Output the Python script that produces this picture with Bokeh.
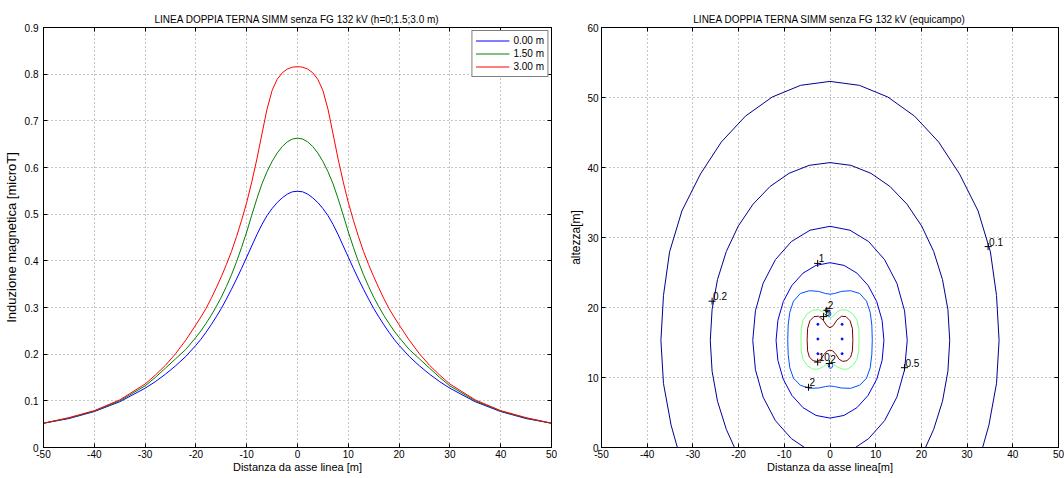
from bokeh.plotting import figure
from bokeh.layouts import row
from bokeh.models import FixedTicker, LinearAxis, Legend, LegendItem, Range1d
from bokeh.embed import file_html
from bokeh.resources import INLINE
from bokeh.core.properties import value

FONT = "Liberation Sans"

# ---------------- left chart: magnetic induction vs distance ----------------
distance_m = [-50, -45, -40, -35, -30, -28, -26, -24, -22, -20, -19, -18, -17, -16, -15, -14, -13, -12,
              -11, -10, -9, -8, -7, -6, -5, -4, -3, -2, -1, 0, 1, 2, 3, 4, 5, 6, 7, 8, 9, 10, 11, 12,
              13, 14, 15, 16, 17, 18, 19, 20, 22, 24, 26, 28, 30, 35, 40, 45, 50]
b_h000 = [0.052, 0.062, 0.077, 0.098, 0.127, 0.141, 0.157, 0.175, 0.195, 0.219, 0.232, 0.247, 0.263,
          0.280, 0.298, 0.318, 0.339, 0.361, 0.384, 0.408, 0.432, 0.456, 0.478, 0.497, 0.512, 0.525,
          0.535, 0.543, 0.548, 0.549, 0.548, 0.543, 0.535, 0.525, 0.512, 0.497, 0.478, 0.456, 0.432,
          0.408, 0.384, 0.361, 0.339, 0.318, 0.298, 0.280, 0.263, 0.247, 0.232, 0.219, 0.195, 0.175,
          0.157, 0.141, 0.127, 0.098, 0.077, 0.062, 0.052]
b_h150 = [0.052, 0.063, 0.078, 0.100, 0.132, 0.150, 0.170, 0.190, 0.210, 0.236, 0.250, 0.266, 0.283,
          0.302, 0.322, 0.345, 0.370, 0.398, 0.429, 0.462, 0.498, 0.533, 0.565, 0.591, 0.613, 0.631,
          0.645, 0.655, 0.661, 0.663, 0.661, 0.655, 0.645, 0.631, 0.613, 0.591, 0.565, 0.533, 0.498,
          0.462, 0.429, 0.398, 0.370, 0.345, 0.322, 0.302, 0.283, 0.266, 0.250, 0.236, 0.210, 0.190,
          0.170, 0.150, 0.132, 0.100, 0.078, 0.063, 0.052]
b_h300 = [0.052, 0.064, 0.079, 0.102, 0.136, 0.155, 0.176, 0.201, 0.230, 0.263, 0.280, 0.298, 0.319,
          0.342, 0.366, 0.392, 0.420, 0.452, 0.487, 0.525, 0.569, 0.618, 0.672, 0.725, 0.765, 0.789,
          0.803, 0.811, 0.815, 0.816, 0.815, 0.811, 0.803, 0.789, 0.765, 0.725, 0.672, 0.618, 0.569,
          0.525, 0.487, 0.452, 0.420, 0.392, 0.366, 0.342, 0.319, 0.298, 0.280, 0.263, 0.230, 0.201,
          0.176, 0.155, 0.136, 0.102, 0.079, 0.064, 0.052]
series_labels = ["0.00 m", "1.50 m", "3.00 m"]
series_colors = ["#0000ff", "#008000", "#ff0000"]

x_ticks = [-50, -40, -30, -20, -10, 0, 10, 20, 30, 40, 50]
x_tick_labels = ["-50", "-40", "-30", "-20", "-10", "0", "10", "20", "30", "40", "50"]
left_y_ticks = [0, 0.1, 0.2, 0.3, 0.4, 0.5, 0.6, 0.7, 0.8, 0.9]
left_y_tick_labels = ["0", "0.1", "0.2", "0.3", "0.4", "0.5", "0.6", "0.7", "0.8", "0.9"]
right_y_ticks = [0, 10, 20, 30, 40, 50, 60]
right_y_tick_labels = ["0", "10", "20", "30", "40", "50", "60"]

# ---------------- right chart: iso-field contours ----------------
c01_x = [-33.4, -34.77, -36.44, -37.0, -36.44, -35.1, -32.4, -28.34, -23.78, -18.5, -12.65, -6.42, 0,
         6.42, 12.65, 18.5, 23.78, 28.34, 32.4, 35.1, 36.44, 37.0, 36.44, 34.77, 33.4]
c01_y = [0, 3.19, 9.15, 15.3, 21.72, 27.95, 33.8, 39.08, 43.64, 47.34, 50.07, 51.74, 52.3,
         51.74, 50.07, 47.34, 43.64, 39.08, 33.8, 27.95, 21.72, 15.3, 9.15, 3.19, 0]
c02_x = [-20.9, -22.69, -24.62, -25.8, -26.2, -25.8, -24.62, -22.69, -20.07, -16.84, -13.1, -8.96, -4.55, 0,
         4.55, 8.96, 13.1, 16.84, 20.07, 22.69, 24.62, 25.8, 26.2, 25.8, 24.62, 22.69, 20.9]
c02_y = [0, 2.6, 6.61, 10.89, 15.3, 19.71, 23.99, 28.0, 31.63, 34.76, 37.3, 39.17, 40.31, 40.7,
         40.31, 39.17, 37.3, 34.76, 31.63, 28.0, 23.99, 19.71, 15.3, 10.89, 6.61, 2.6, 0]
c05_x = [-5.56, -8.45, -11.95, -14.64, -16.32, -16.9, -16.32, -14.64, -11.95, -8.45, -4.37, 0,
         4.37, 8.45, 11.95, 14.64, 16.32, 16.9, 16.32, 14.64, 11.95, 8.45, 5.56]
c05_y = [0, 1.27, 3.84, 7.2, 11.11, 15.3, 19.52, 23.45, 26.83, 29.42, 31.04, 31.6,
         31.04, 29.42, 26.83, 23.45, 19.52, 15.3, 11.11, 7.2, 3.84, 1.27, 0]
c1_x = [0, 3.05, 5.9, 8.34, 10.22, 11.4, 11.8, 11.4, 10.22, 8.34, 5.9, 3.05, 0,
        -3.05, -5.9, -8.34, -10.22, -11.4, -11.8, -11.4, -10.22, -8.34, -5.9, -3.05, 0]
c1_y = [26.4, 26.02, 24.91, 23.15, 20.85, 18.17, 15.3, 12.43, 9.75, 7.45, 5.69, 4.58, 4.2,
        4.58, 5.69, 7.45, 9.75, 12.43, 15.3, 18.17, 20.85, 23.15, 24.91, 26.02, 26.4]
c2_x = [0, 1.0, 2.5, 4.5, 6.5, 8.0, 8.8, 9.15, 9.25, 9.15, 8.8, 8.0, 6.5, 4.5, 2.5, 1.0, 0,
        -1.0, -2.5, -4.5, -6.5, -8.0, -8.8, -9.15, -9.25, -9.15, -8.8, -8.0, -6.5, -4.5, -2.5, -1.0, 0]
c2_y = [21.9, 22.0, 22.3, 22.4, 22.0, 20.9, 19.3, 17.5, 15.4, 13.3, 11.4, 9.9, 8.9, 8.45, 8.5, 8.7, 8.8,
        8.7, 8.5, 8.45, 8.9, 9.9, 11.4, 13.3, 15.4, 17.5, 19.3, 20.9, 22.0, 22.4, 22.3, 22.0, 21.9]
c2a_x = [0.2, 0.05, -0.3, -0.65, -0.8, -0.65, -0.3, 0.05, 0.2]
c2a_y = [19.1, 19.38, 19.5, 19.38, 19.1, 18.82, 18.7, 18.82, 19.1]
c2b_x = [0.6, 0.45, 0.1, -0.25, -0.4, -0.25, 0.1, 0.45, 0.6]
c2b_y = [11.7, 11.98, 12.1, 11.98, 11.7, 11.42, 11.3, 11.42, 11.7]
c5_x = [0, 0.8, 1.6, 2.6, 3.8, 5.0, 5.9, 6.3, 6.35, 6.3, 5.9, 5.0, 3.8, 2.6, 1.6, 0.8, 0,
        -0.8, -1.6, -2.6, -3.8, -5.0, -5.9, -6.3, -6.35, -6.3, -5.9, -5.0, -3.8, -2.6, -1.6, -0.8, 0]
c5_y = [18.5, 18.8, 19.4, 19.7, 19.6, 19.1, 18.2, 17.0, 15.4, 13.8, 12.6, 11.7, 11.2, 11.2, 11.5, 11.9, 12.1,
        11.9, 11.5, 11.2, 11.2, 11.7, 12.6, 13.8, 15.4, 17.0, 18.2, 19.1, 19.6, 19.7, 19.4, 18.8, 18.5]
c10_x = [0, 0.7, 1.5, 2.5, 3.5, 4.4, 4.9, 5.0, 4.9, 4.5, 3.7, 2.8, 2.0, 1.3, 0.6, 0,
         -0.6, -1.3, -2.0, -2.8, -3.7, -4.5, -4.9, -5.0, -4.9, -4.4, -3.5, -2.5, -1.5, -0.7, 0]
c10_y = [17.1, 17.4, 18.2, 18.75, 18.7, 18.1, 17.0, 15.4, 13.8, 12.9, 12.4, 12.3, 12.6, 13.3, 13.8, 13.9,
         13.8, 13.3, 12.6, 12.3, 12.4, 12.9, 13.8, 15.4, 17.0, 18.1, 18.7, 18.75, 18.2, 17.4, 17.1]

contour_lines = [
    (c01_x, c01_y, "#00008F"),
    (c02_x, c02_y, "#00008F"),
    (c05_x, c05_y, "#0000AF"),
    (c1_x, c1_y, "#0000DF"),
    (c2_x, c2_y, "#0050FF"),
    (c2a_x, c2a_y, "#0050FF"),
    (c2b_x, c2b_y, "#0050FF"),
    (c5_x, c5_y, "#80FF80"),
    (c10_x, c10_y, "#800000"),
]

conductor_x = [-2.65, 2.65, -2.65, 2.65, -2.65, 2.65]
conductor_y = [17.6, 17.6, 15.5, 15.5, 13.4, 13.4]

label_text = ["0.1", "0.2", "0.5", "1", "2", "2", "5", "10", "2"]
label_x = [34.6, -25.8, 16.3, -2.7, -4.7, -0.7, -1.4, -2.7, -0.15]
label_y = [28.7, 20.9, 11.4, 26.3, 8.6, 19.6, 18.7, 12.2, 12.0]


def style(p, xt, xl, yt, yl, ylabel_size, ytick_standoff, ylabel_standoff):
    p.outline_line_color = "black"
    p.outline_line_width = 1
    p.background_fill_color = "white"
    p.border_fill_color = "white"
    p.title.align = "center"
    p.title.text_font = FONT
    p.title.text_font_size = "10px"
    p.title.text_font_style = "normal"
    p.title.text_color = "black"
    p.title.standoff = 5
    p.xaxis.ticker = FixedTicker(ticks=xt)
    p.xaxis.major_label_overrides = dict(zip(xt, xl))
    p.yaxis.ticker = FixedTicker(ticks=yt)
    p.yaxis.major_label_overrides = dict(zip(yt, yl))
    for ax in [p.xaxis[0], p.yaxis[0]]:
        ax.major_tick_in = 4
        ax.major_tick_out = 0
        ax.minor_tick_line_color = None
        ax.axis_line_color = "black"
        ax.major_tick_line_color = "black"
        ax.major_label_text_font = FONT
        ax.major_label_text_font_size = "10px"
        ax.major_label_text_color = "black"
        ax.axis_label_text_font = FONT
        ax.axis_label_text_font_style = "normal"
        ax.axis_label_text_color = "black"
    p.xaxis.major_label_standoff = 2
    p.xaxis.axis_label_standoff = 0
    p.xaxis.axis_label_text_font_size = "11px"
    p.yaxis.major_label_standoff = ytick_standoff
    p.yaxis.axis_label_standoff = ylabel_standoff
    p.yaxis.axis_label_text_font_size = ylabel_size
    top = LinearAxis(ticker=FixedTicker(ticks=xt), major_label_text_font_size="0px",
                     major_tick_in=4, major_tick_out=0, minor_tick_line_color=None,
                     axis_line_color="black", major_label_standoff=0)
    right = LinearAxis(ticker=FixedTicker(ticks=yt), major_label_text_font_size="0px",
                       major_tick_in=4, major_tick_out=0, minor_tick_line_color=None,
                       axis_line_color="black", major_label_standoff=0)
    p.add_layout(top, "above")
    p.add_layout(right, "right")
    p.xgrid.ticker = FixedTicker(ticks=xt)
    p.ygrid.ticker = FixedTicker(ticks=yt)
    for g in [p.xgrid[0], p.ygrid[0]]:
        g.grid_line_color = "#8c8c8c"
        g.grid_line_dash = "1 3"
        g.grid_line_width = 1


# ---------------- left figure ----------------
p1 = figure(width=566, height=476, output_backend="svg", toolbar_location=None,
            x_range=Range1d(-50, 50), y_range=Range1d(0, 0.9),
            title="LINEA DOPPIA TERNA SIMM senza FG 132 kV (h=0;1.5;3.0 m)",
            min_border_left=43, min_border_right=15, min_border_top=27, min_border_bottom=29)
p1.xaxis.axis_label = "Distanza da asse linea [m]"
p1.yaxis.axis_label = "Induzione magnetica [microT]"
style(p1, x_ticks, x_tick_labels, left_y_ticks, left_y_tick_labels, "13px", 5, 3)

renderers = []
for ys, col in zip([b_h000, b_h150, b_h300], series_colors):
    renderers.append(p1.line(distance_m, ys, line_color=col, line_width=1))

legend = Legend(items=[LegendItem(label=lab, renderers=[r]) for lab, r in zip(series_labels, renderers)],
                location="top_right", margin=3, padding=3, spacing=0,
                glyph_width=34, glyph_height=13, label_height=13, label_standoff=4,
                label_text_font=FONT, label_text_font_size="10px", label_text_color="black",
                border_line_color="black", border_line_width=1, background_fill_color="white",
                background_fill_alpha=1)
p1.add_layout(legend)

# ---------------- right figure ----------------
p2 = figure(width=498, height=476, output_backend="svg", toolbar_location=None,
            x_range=Range1d(-50, 50), y_range=Range1d(0, 60),
            title="LINEA DOPPIA TERNA SIMM senza FG 132 kV (equicampo)",
            min_border_left=30, min_border_right=6, min_border_top=27, min_border_bottom=29)
p2.xaxis.axis_label = "Distanza da asse linea[m]"
p2.yaxis.axis_label = "altezza[m]"
style(p2, x_ticks, x_tick_labels, right_y_ticks, right_y_tick_labels, "12px", 3, 1)

for xs, ys, col in contour_lines:
    p2.line(xs, ys, line_color=col, line_width=1)

p2.scatter(conductor_x, conductor_y, marker="circle", size=2, fill_color="#0000ff", line_color="#0000ff")
p2.scatter(label_x, label_y, marker="cross", size=7, line_color="black", line_width=1)
p2.text(label_x, label_y, text=label_text, text_align="left", text_baseline="bottom",
        x_offset=1, y_offset=-1, text_font=value(FONT), text_font_size="10px", text_color="black")

layout = row(p1, p2)
open("out.html", "w").write(file_html(layout, INLINE))
